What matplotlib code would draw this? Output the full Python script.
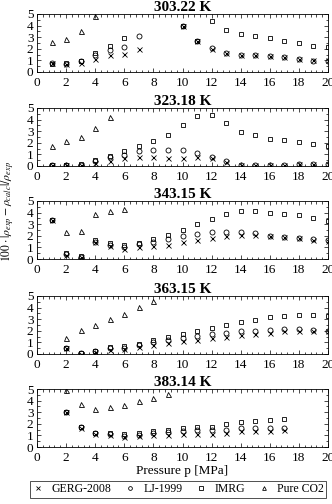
import numpy as np
import matplotlib
matplotlib.use("Agg")
import matplotlib.pyplot as plt
from matplotlib.ticker import MultipleLocator

plt.rcParams["font.family"] = ["Liberation Serif", "DejaVu Serif"]
plt.rcParams["mathtext.fontset"] = "stix"
plt.rcParams["font.size"] = 9.5

temps = ["303.22 K", "323.18 K", "343.15 K", "363.15 K", "383.14 K"]

# 303.22 K
p1 = [1, 2, 3, 4, 5, 6, 7, 10, 11, 12, 13, 14, 15, 16, 17, 18, 19, 20]
gerg1 = [0.75, 0.7, 0.8, 1.15, 1.45, 1.55, 2.0, 3.95, 2.7, 2.0, 1.6, 1.45, 1.45, 1.4, 1.25, 1.1, 1.0, 1.0]
lj1 = [0.75, 0.72, 0.93, 1.5, 1.9, 2.17, 3.11, 4.0, 2.7, 2.03, 1.6, 1.45, 1.45, 1.4, 1.25, 1.1, 0.95, 0.95]
imrg1_p = [1, 2, 3, 4, 5, 6, 10, 11, 12, 13, 14, 15, 16, 17, 18, 19, 20]
imrg1 = [0.71, 0.77, 0.91, 1.63, 2.2, 2.89, 3.97, 2.7, 4.4, 3.66, 3.31, 3.09, 2.89, 2.66, 2.49, 2.26, 2.14]
co2_1_p = [1, 2, 3, 4]
co2_1 = [2.57, 2.86, 3.5, 4.83]

# 323.18 K
p2 = list(range(1, 21))
gerg2 = [0.05, 0.05, 0.05, 0.25, 0.45, 0.7, 0.8, 0.75, 0.7, 0.7, 0.75, 0.65, 0.35, 0.05, 0.05, 0.05, 0.1, 0.2, 0.2, 0.15]
lj2 = [0.1, 0.1, 0.1, 0.4, 0.8, 0.98, 1.26, 1.37, 1.37, 1.37, 1.1, 0.76, 0.4, 0.05, 0.05, 0.05, 0.1, 0.2, 0.2, 0.15]
imrg2_p = p2
imrg2 = [0.1, 0.1, 0.15, 0.5, 0.9, 1.26, 1.7, 2.13, 2.66, 3.5, 4.3, 4.39, 3.71, 2.92, 2.63, 2.34, 2.22, 2.08, 1.9, 1.7]
co2_2_p = [1, 2, 3, 4, 5]
co2_2 = [1.7, 2.19, 2.49, 3.3, 4.24]

# 343.15 K
p3 = list(range(1, 21))
gerg3 = [3.35, 0.35, 0.15, 1.45, 1.1, 0.9, 1.0, 1.1, 1.25, 1.45, 1.65, 1.85, 1.95, 2.1, 2.1, 1.95, 1.9, 1.8, 1.65, 1.55]
lj3 = [3.35, 0.4, 0.2, 1.5, 1.25, 1.05, 1.3, 1.5, 1.75, 1.95, 2.15, 2.3, 2.35, 2.35, 2.2, 2.0, 1.9, 1.8, 1.7, 1.6]
imrg3_p = p3
imrg3 = [3.35, 0.5, 0.25, 1.6, 1.35, 1.2, 1.4, 1.7, 2.1, 2.5, 3.0, 3.45, 3.9, 4.1, 4.15, 4.0, 3.9, 3.75, 3.5, 3.3]
co2_3_p = [2, 3, 4, 5, 6]
co2_3 = [2.3, 2.4, 3.9, 4.1, 4.3]

# 363.15 K
p4 = list(range(2, 21))
gerg4 = [0.5, 0.0, 0.2, 0.35, 0.4, 0.6, 0.75, 0.95, 1.1, 1.2, 1.4, 1.5, 1.65, 1.75, 1.85, 1.95, 1.95, 2.0, 1.95]
lj4 = [0.5, 0.05, 0.25, 0.5, 0.55, 0.75, 1.0, 1.2, 1.35, 1.55, 1.7, 1.85, 1.95, 2.0, 2.05, 2.15, 2.15, 2.1, 2.0]
imrg4_p = p4
imrg4 = [0.55, 0.05, 0.3, 0.6, 0.65, 0.9, 1.2, 1.45, 1.75, 2.0, 2.25, 2.5, 2.75, 2.95, 3.15, 3.3, 3.35, 3.35, 3.3]
co2_4_p = [2, 3, 4, 5, 6, 7, 8]
co2_4 = [1.4, 2.03, 2.54, 3.06, 3.43, 4.03, 4.6]

# 383.14 K
p5 = list(range(2, 18))
gerg5 = [3.0, 1.65, 1.1, 1.05, 0.9, 0.95, 1.0, 1.05, 1.1, 1.15, 1.15, 1.25, 1.35, 1.4, 1.4, 1.45]
lj5 = [3.0, 1.7, 1.2, 1.15, 0.95, 1.05, 1.2, 1.3, 1.35, 1.45, 1.45, 1.5, 1.6, 1.65, 1.65, 1.65]
imrg5_p = p5
imrg5 = [3.0, 1.7, 1.25, 1.25, 1.1, 1.25, 1.35, 1.45, 1.6, 1.7, 1.75, 1.95, 2.15, 2.2, 2.3, 2.4]
co2_5_p = [2, 3, 4, 5, 6, 7, 8, 9]
co2_5 = [4.9, 3.7, 3.3, 3.45, 3.6, 3.95, 4.25, 4.6]

panels = [
    (p1, gerg1, lj1, imrg1_p, imrg1, co2_1_p, co2_1),
    (p2, gerg2, lj2, imrg2_p, imrg2, co2_2_p, co2_2),
    (p3, gerg3, lj3, imrg3_p, imrg3, co2_3_p, co2_3),
    (p4, gerg4, lj4, imrg4_p, imrg4, co2_4_p, co2_4),
    (p5, gerg5, lj5, imrg5_p, imrg5, co2_5_p, co2_5),
]

W, H = 332, 504
fig = plt.figure(figsize=(W / 100, H / 100), dpi=100)

tops = [14, 108, 201, 296, 389]
ax_h = 58
left, right = 37, 328

ms = 3.6
mew = 0.6
for i, (pp, g, lj, ip, im, cp, c) in enumerate(panels):
    ax = fig.add_axes([left / W, 1 - (tops[i] + ax_h) / H, (right - left) / W, ax_h / H])
    ax.plot(pp, g, "x", color="black", ms=ms, mew=mew, label="GERG-2008")
    ax.plot(pp, lj, "o", mfc="none", color="black", ms=ms, mew=mew, label="LJ-1999")
    ax.plot(ip, im, "s", mfc="none", color="black", ms=ms - 0.4, mew=mew, label="IMRG")
    ax.plot(cp, c, "^", mfc="none", color="black", ms=ms, mew=mew, label="Pure CO2")
    ax.set_xlim(0, 20)
    ax.set_ylim(0, 5)
    ax.xaxis.set_major_locator(MultipleLocator(2))
    ax.xaxis.set_minor_locator(MultipleLocator(0.4))
    ax.yaxis.set_major_locator(MultipleLocator(1))
    ax.yaxis.set_minor_locator(MultipleLocator(0.5))
    ax.tick_params(which="both", direction="in", top=True, right=True, width=0.5, labelsize=9.5)
    ax.tick_params(axis="x", pad=3.5)
    ax.tick_params(axis="y", pad=2.5)
    ax.tick_params(which="major", length=3)
    ax.tick_params(which="minor", length=1.8)
    for s in ax.spines.values():
        s.set_linewidth(0.6)
    ax.set_title(temps[i], fontweight="bold", fontsize=11, pad=2)
    if i == 4:
        ax.set_xlabel("Pressure p [MPa]", fontsize=9.5, labelpad=1)
        handles, labels = ax.get_legend_handles_labels()

fig.text(8 / W, 1 - 212 / H, r"$100 \cdot |\rho_{exp} - \rho_{calc}|/\rho_{exp}$",
         rotation=90, ha="center", va="center", fontsize=8.5)

leg = fig.legend(handles, labels, loc="upper center", ncol=4, bbox_to_anchor=(178 / W, 1 - 481 / H),
                 frameon=True, fancybox=False, edgecolor="black", fontsize=8.5,
                 handletextpad=0.6, columnspacing=1.1, handlelength=1.0, borderpad=0.2,
                 borderaxespad=0, markerscale=0.75)
leg.get_frame().set_linewidth(0.6)

fig.savefig("out.png", dpi=100)
